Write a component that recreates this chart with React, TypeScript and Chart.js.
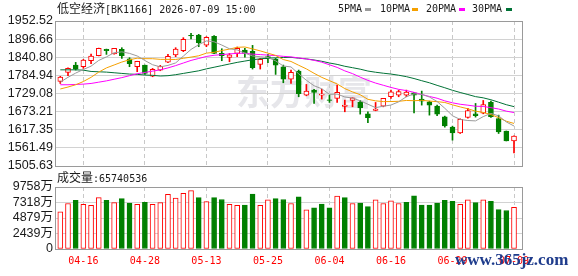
import React, { useEffect, useRef } from 'react';
import { Chart, registerables } from 'chart.js';

Chart.register(...registerables);

// ---------- data ----------
const dates = ['04-13','04-14','04-15','04-16','04-17','04-20','04-21','04-22','04-23','04-24','04-27','04-28','04-29','04-30','05-06','05-07','05-08','05-11','05-12','05-13','05-14','05-15','05-18','05-19','05-20','05-21','05-22','05-25','05-26','05-27','05-28','05-29','06-01','06-02','06-03','06-04','06-05','06-08','06-09','06-10','06-11','06-12','06-15','06-16','06-17','06-18','06-22','06-23','06-24','06-25','06-26','06-29','06-30','07-01','07-02','07-03','07-06','07-07','07-08','07-09'];
const xTickLabels = ['04-16','04-28','05-13','05-25','06-04','06-16','06-29','07-09'];

const opens = [1766.3,1794.1,1816.7,1811.6,1830.1,1845.5,1865.1,1850.7,1865.1,1836.3,1811.6,1816.7,1782.8,1801.3,1826.0,1847.6,1861.0,1908.3,1909.3,1878.4,1905.2,1852.7,1840.4,1852.7,1863.0,1858.9,1818.8,1842.5,1834.2,1811.6,1773.5,1798.2,1724.1,1739.6,1724.1,1709.7,1713.9,1689.2,1707.7,1701.5,1666.5,1677.0,1690.2,1719.0,1724.1,1724.1,1731.3,1711.8,1703.6,1690.2,1657.3,1625.4,1607.9,1655.2,1666.5,1668.6,1701.5,1652.1,1613.0,1583.2];
const highs = [1782,1808.5,1825,1834.2,1850.7,1869,1866,1868.5,1870.2,1839.4,1828.5,1817,1806.4,1815.7,1849.6,1870.2,1901.1,1914.5,1911.4,1904.2,1907.3,1867.1,1852.7,1872.3,1868.1,1877.4,1837.3,1849.6,1837.3,1816.7,1801.3,1801.3,1757,1741.6,1742.6,1724.1,1755,1708.7,1716,1707.7,1672.7,1701.5,1714,1739.6,1739.6,1739.6,1733,1736.5,1705.6,1693.3,1659.3,1628.5,1651.1,1683,1698.4,1707.7,1705.6,1662.4,1613.5,1598.7];
const lows = [1760,1783.8,1801.3,1806.4,1820.8,1845,1849.6,1850,1837.3,1811.6,1796.2,1787.9,1780.7,1799.2,1823.9,1842.5,1857.9,1897,1873.3,1873.3,1852,1830.1,1827,1842.5,1841.4,1804.4,1804.4,1823.9,1787.9,1762.2,1760.2,1719,1722,1698.4,1711.8,1701.5,1701.5,1672.7,1688.1,1665.5,1638.8,1675.8,1688,1714,1719,1719,1669.6,1693.3,1662.4,1660.4,1625.4,1585.3,1605.8,1653.2,1656.3,1666.5,1655.2,1605.8,1582.8,1546.2];
const closes = [1779.7,1806.4,1804.4,1832.2,1844.5,1868.1,1861,1868.1,1845.5,1820.8,1828,1791,1803.4,1812.6,1843.5,1866.1,1896,1906.2,1885.6,1902.1,1852.7,1845.5,1848.6,1868.1,1852.7,1808.5,1834.2,1836.3,1816.7,1773.5,1794.1,1728.3,1736.5,1732.4,1727.2,1707.7,1732.4,1693.4,1715.9,1685,1654.2,1681,1713.9,1734.4,1735.2,1733.4,1724.1,1705.6,1693.3,1665.5,1629.5,1607.9,1649.1,1676.8,1660.4,1695.3,1657.3,1611,1583.2,1597.6];

const ma5 = [1764,1779,1792,1803,1813.4,1831.1,1842,1854.8,1857.4,1852.7,1844.7,1830.7,1817.7,1811.2,1815.7,1823.3,1844.3,1864.9,1879.5,1891.2,1888.5,1878.4,1866.9,1863.4,1853.5,1844.7,1842.4,1840,1829.7,1813.8,1811,1789.8,1769.8,1753,1743.7,1726.4,1727.2,1718.4,1715.1,1706.7,1696,1685.5,1689.8,1693.5,1703.4,1719.2,1728,1726.4,1718.2,1704.4,1683.6,1660.4,1649.1,1645.8,1644.7,1657.9,1667.8,1660.2,1641.4,1628.9];
const ma10 = [1743,1749,1756,1766,1779,1795,1808,1817,1826,1833.1,1837.9,1836.4,1836.3,1834.3,1834.2,1834,1837.5,1841.3,1845.3,1853.5,1855.9,1861.4,1865.9,1871.4,1872.4,1866.6,1860.4,1853.4,1846.5,1833.7,1827.8,1816.1,1804.9,1791.3,1778.8,1768.7,1758.5,1744.1,1734,1725.2,1711.2,1706.4,1704.1,1704.3,1705,1707.6,1706.8,1708.1,1705.8,1703.9,1701.4,1694.2,1687.7,1682,1674.6,1670.8,1664.1,1654.6,1643.6,1636.8];
const ma20 = [1756,1756,1757,1758,1760,1764,1768,1773,1778,1784,1790,1794,1798,1802,1808,1815,1823,1831,1837,1843.3,1846.9,1848.9,1851.1,1852.9,1853.3,1850.3,1849,1847.4,1845.9,1843.6,1841.9,1838.7,1835.4,1831.4,1825.6,1817.6,1809.5,1798.8,1790.3,1779.4,1769.5,1761.2,1754.5,1747.8,1741.9,1738.1,1732.6,1726.1,1719.9,1714.5,1706.3,1700.3,1695.9,1693.1,1689.8,1689.2,1685.4,1681.3,1674.7,1670.3];
const ma30 = [1802,1802,1802,1801,1797,1796,1795,1793,1791,1789,1788,1786,1785,1783,1784,1787,1791,1795,1799,1805,1810,1815,1820,1825,1829,1833,1836,1838,1839,1840.1,1840.5,1837.9,1835.7,1832.4,1828.4,1823.1,1818.8,1813,1808.6,1804.1,1798.3,1794.6,1791.6,1789,1785.4,1781,1775.2,1768.5,1762.1,1754.2,1746.8,1738.9,1732.2,1725.9,1719.4,1715.7,1709.8,1702.3,1694.5,1688.6];

// volume in 万
const volumes = [5864,7162,7643,7018,6874,8075,7643,7306,7931,7210,7018,7354,7018,7306,8604,8027,8748,9181,8075,7451,8075,7787,7018,6874,6922,8652,6874,7739,7931,7787,7162,8219,6153,6489,7066,6489,8316,8075,7162,7210,6681,7739,7162,7595,7162,7354,8364,6922,6922,7210,7643,7499,7018,7739,7306,7739,7499,6201,6057,6574];

const priceTickLabels = ['1505.63','1561.49','1617.35','1673.21','1729.08','1784.94','1840.80','1896.66','1952.52'];
const volTickLabels = ['0','2439万','4879万','7318万','9758万'];
const volMax = 9758;

const titleName = '低空经济';
const titleCode = '[BK1166] 2026-07-09 15:00';
const volLabel = '成交量';
const volValueText = ':65740536';
const legendItems = ['5PMA', '10PMA', '20PMA', '30PMA'];

// ---------- style ----------
const RED = '#ff0000';
const GREEN = '#008000';
const MA_COLORS = ['#9a9a9a', '#f5a000', '#ff00ff', '#007236'];
const FONT_MONO = '"DejaVu Sans Mono", "Liberation Mono", monospace';
const FONT_AXIS = '"Liberation Sans", "Noto Sans CJK SC", sans-serif';
const FONT_CJK = '"Noto Sans CJK SC", sans-serif';
const X_MIN = -0.69;
const X_MAX = 60.04;

const framePlugin = {
  id: 'frame',
  afterDraw(chart: any) {
    const { ctx, chartArea: a } = chart;
    ctx.save();
    ctx.strokeStyle = '#9a9a9a';
    ctx.lineWidth = 1;
    ctx.strokeRect(a.left + 0.5, a.top + 0.5, a.right - a.left, a.bottom - a.top);
    ctx.restore();
  },
};

const watermarkPlugin = {
  id: 'wm',
  beforeDraw(chart: any) {
    const { ctx } = chart;
    ctx.save();
    ctx.fillStyle = '#e6e6ea';
    ctx.font = 'bold 34px "Noto Sans CJK SC"';
    ctx.textAlign = 'left';
    ctx.textBaseline = 'middle';
    ctx.fillText('东方财富', 236, 92);
    ctx.restore();
  },
};

export default function App() {
  const priceRef = useRef<HTMLCanvasElement>(null);
  const volRef = useRef<HTMLCanvasElement>(null);

  useEffect(() => {
    const idx = dates.map((_, i) => i);
    const upCandle = idx.map((i) => closes[i] >= opens[i]);
    const candleColor = idx.map((i) => (upCandle[i] ? RED : GREEN));
    const volUp = idx.map((i) => (i === 0 ? upCandle[0] : closes[i] >= closes[i - 1]));
    const labelIdx = xTickLabels.map((l) => dates.indexOf(l));

    const xScale = (showLabels: boolean) => ({
      type: 'linear',
      min: X_MIN,
      max: X_MAX,
      bounds: 'data',
      offset: false,
      afterBuildTicks: (s: any) => {
        s.ticks = labelIdx.map((v) => ({ value: v }));
      },
      ticks: {
        display: showLabels,
        autoSkip: false,
        maxRotation: 0,
        color: RED,
        padding: 6,
        font: { family: FONT_MONO, size: 10 },
        callback: (v: any) => dates[Math.round(Number(v))] ?? '',
      },
      grid: { color: '#c8c8c8', lineWidth: 1, drawTicks: false, offset: false },
      border: { display: false, dash: [4, 3] },
    });

    const maSets = [ma5, ma10, ma20, ma30].map((arr, k) => ({
      type: 'line',
      data: idx.map((i) => ({ x: i, y: arr[i] })),
      borderColor: MA_COLORS[k],
      borderWidth: 1,
      pointRadius: 0,
      tension: 0,
      fill: false,
    }));

    const priceChart = new Chart(priceRef.current as HTMLCanvasElement, {
      type: 'bar',
      data: {
        datasets: [
          ...maSets,
          {
            type: 'bar',
            data: idx.map((i) => ({ x: i, y: [opens[i], closes[i]] })),
            backgroundColor: idx.map((i) => (upCandle[i] ? '#ffffff' : GREEN)),
            borderColor: candleColor,
            borderWidth: 1,
            borderSkipped: false,
            barThickness: 5,
            grouped: false,
          },
          {
            type: 'bar',
            data: idx.map((i) => ({ x: i, y: [lows[i], highs[i]] })),
            backgroundColor: candleColor,
            borderWidth: 0,
            barThickness: 1,
            grouped: false,
          },
        ] as any,
      },
      options: {
        responsive: false,
        animation: false,
        devicePixelRatio: 1,
        layout: { padding: { left: 0, right: 56, top: 21, bottom: 14 } },
        plugins: { legend: { display: false }, tooltip: { enabled: false } },
        scales: {
          x: xScale(false) as any,
          y: {
            type: 'linear',
            min: 1505.63,
            max: 1952.52,
            bounds: 'data',
            afterBuildTicks: (s: any) => {
              s.ticks = priceTickLabels.map((l) => ({ value: parseFloat(l) }));
            },
            afterFit: (s: any) => {
              s.width = 55;
            },
            ticks: {
              autoSkip: false,
              color: '#1a1a1a',
              padding: 2,
              font: { family: FONT_AXIS, size: 12.5 },
              callback: (_v: any, i: number) => priceTickLabels[i],
            },
            grid: { color: '#d2d2d2', drawTicks: false },
            border: { display: false },
          },
        },
      },
      plugins: [watermarkPlugin, framePlugin],
    });

    const volChart = new Chart(volRef.current as HTMLCanvasElement, {
      type: 'bar',
      data: {
        datasets: [
          {
            type: 'bar',
            data: idx.map((i) => ({ x: i, y: volumes[i] })),
            backgroundColor: idx.map((i) => (volUp[i] ? '#ffffff' : GREEN)),
            borderColor: idx.map((i) => (volUp[i] ? RED : GREEN)),
            borderWidth: 1,
            borderSkipped: false,
            barThickness: 5,
            grouped: false,
          },
        ] as any,
      },
      options: {
        responsive: false,
        animation: false,
        devicePixelRatio: 1,
        layout: { padding: { left: 0, right: 56, top: 17, bottom: 3 } },
        plugins: { legend: { display: false }, tooltip: { enabled: false } },
        scales: {
          x: xScale(true) as any,
          y: {
            type: 'linear',
            min: 0,
            max: volMax,
            bounds: 'data',
            afterBuildTicks: (s: any) => {
              s.ticks = volTickLabels.map((_, k) => ({ value: (volMax * k) / (volTickLabels.length - 1) }));
            },
            afterFit: (s: any) => {
              s.width = 55;
            },
            ticks: {
              autoSkip: false,
              color: '#1a1a1a',
              padding: 2,
              font: { family: FONT_AXIS, size: 12.5 },
              callback: (_v: any, i: number) => volTickLabels[i],
            },
            grid: { color: '#d2d2d2', drawTicks: false },
            border: { display: false },
          },
        },
      },
      plugins: [framePlugin],
    });

    return () => {
      priceChart.destroy();
      volChart.destroy();
    };
  }, []);

  const abs = (s: React.CSSProperties): React.CSSProperties => ({ position: 'absolute', whiteSpace: 'pre', ...s });
  const legendLeft = [338, 380, 426, 472];
  const swatchLeft = [365, 412, 459, 506];

  return (
    <div style={{ position: 'absolute', left: 0, top: 0, width: 578, height: 276, background: '#ffffff', overflow: 'hidden' }}>
      <canvas ref={priceRef} width={578} height={180} style={abs({ left: 0, top: 0, width: 578, height: 180 })} />
      <canvas ref={volRef} width={578} height={106} style={abs({ left: 0, top: 170, width: 578, height: 106 })} />

      <div style={abs({ left: 57, top: 1, height: 14, lineHeight: '14px', color: '#1a1a1a' })}>
        <span style={{ fontFamily: FONT_CJK, fontSize: 12 }}>{titleName}</span>
        <span style={{ fontFamily: FONT_MONO, fontSize: 10 }}>{titleCode}</span>
      </div>

      {legendItems.map((t, k) => (
        <React.Fragment key={t}>
          <div style={abs({ left: legendLeft[k], top: 2, lineHeight: '14px', fontFamily: FONT_MONO, fontSize: 10, color: '#1a1a1a' })}>{t}</div>
          <div style={abs({ left: swatchLeft[k], top: 8, width: 6, height: 3, background: MA_COLORS[k] })} />
        </React.Fragment>
      ))}

      <div style={abs({ left: 57, top: 170, height: 14, lineHeight: '14px', color: '#1a1a1a' })}>
        <span style={{ fontFamily: FONT_CJK, fontSize: 12 }}>{volLabel}</span>
        <span style={{ fontFamily: FONT_MONO, fontSize: 10 }}>{volValueText}</span>
      </div>

      <div style={abs({ left: 455, top: 251, lineHeight: '18px', fontFamily: '"Liberation Serif", serif', fontWeight: 'bold', fontSize: 17, color: '#1f3c8c' })}>
        www.365jz.com
      </div>
    </div>
  );
}
